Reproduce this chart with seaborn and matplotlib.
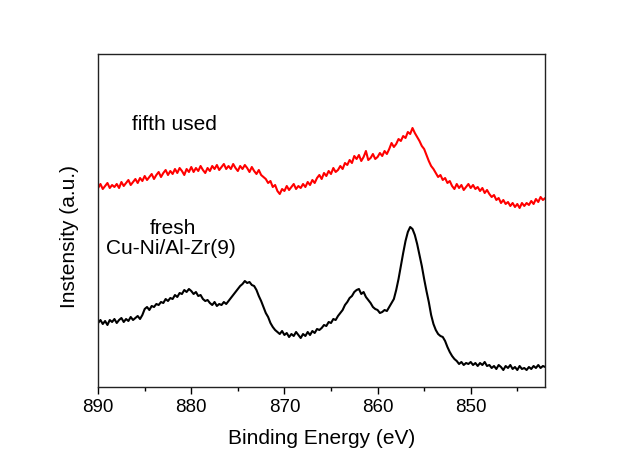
import numpy as np
import pandas as pd
import matplotlib
matplotlib.use("Agg")
import matplotlib.pyplot as plt
import seaborn as sns
from matplotlib.ticker import MultipleLocator

# ==========================================
# DATA (0.25 eV steps from 890 to 842 eV)
# ==========================================
energy = np.arange(890.0, 841.99, -0.25)

fifth_used = [
    199, 203, 198, 201, 204, 199, 202, 200,
    203, 199, 205, 201, 204, 207, 202, 205,
    208, 204, 209, 206, 211, 207, 210, 213,
    208, 212, 215, 210, 214, 217, 212, 216,
    213, 218, 214, 219, 216, 212, 218, 215,
    220, 215, 219, 216, 221, 217, 214, 219,
    216, 221, 218, 222, 217, 220, 223, 218,
    221, 218, 223, 219, 216, 221, 218, 222,
    219, 215, 220, 216, 213, 217, 212, 210,
    208, 204, 206, 200, 202, 196, 193, 198,
    196, 201, 197, 200, 203, 198, 201, 199,
    203, 200, 205, 202, 207, 204, 209, 212,
    208, 214, 211, 216, 213, 219, 215, 217,
    221, 218, 224, 222, 227, 224, 231, 228,
    232, 226, 230, 236, 227, 229, 233, 228,
    230, 234, 231, 236, 233, 238, 244, 240,
    243, 248, 246, 251, 249, 255, 253, 259,
    254, 250, 246, 241, 238, 232, 226, 221,
    218, 214, 210, 212, 207, 209, 204, 206,
    201, 198, 203, 199, 202, 197, 200, 203,
    199, 202, 198, 200, 196, 199, 194, 197,
    193, 190, 192, 187, 189, 184, 187, 183,
    185, 181, 184, 180, 183, 179, 184, 181,
    184, 182, 186, 183, 188, 185, 190, 187,
    189,
]

fresh = [
    64, 67, 63, 66, 62, 67, 65, 68,
    64, 67, 69, 65, 68, 66, 70, 67,
    69, 71, 68, 72, 78, 80, 77, 81,
    80, 83, 82, 85, 84, 88, 86, 89,
    88, 92, 90, 94, 93, 97, 95, 98,
    96, 93, 95, 91, 92, 88, 86, 87,
    84, 82, 85, 81, 83, 82, 85, 83,
    86, 89, 92, 95, 98, 101, 103, 106,
    104, 105, 102, 101, 97, 91, 86, 80,
    74, 70, 64, 60, 57, 55, 53, 56,
    52, 54, 50, 53, 51, 55, 52, 49,
    53, 51, 55, 52, 56, 54, 58, 57,
    59, 62, 61, 65, 64, 68, 67, 71,
    74, 77, 82, 85, 89, 91, 95, 97,
    98, 93, 95, 90, 87, 84, 80, 78,
    77, 74, 75, 77, 76, 80, 84, 88,
    97, 108, 121, 134, 146, 155, 160, 158,
    152, 143, 132, 121, 108, 96, 85, 72,
    63, 57, 53, 51, 50, 46, 40, 35,
    31, 28, 26, 23, 25, 22, 24, 23,
    25, 22, 24, 21, 24, 22, 25, 21,
    22, 19, 21, 18, 22, 20, 17, 21,
    19, 22, 18, 20, 17, 21, 18, 19,
    17, 20, 18, 21, 19, 22, 19, 21,
    20,
]

x_ticks = [890, 880, 870, 860, 850]

# ==========================================
# PLOT
# ==========================================
sns.set_style("ticks")
plt.rcParams['font.family'] = ['Liberation Sans', 'DejaVu Sans']
plt.rcParams['text.color'] = 'black'
plt.rcParams['axes.labelcolor'] = 'black'
plt.rcParams['xtick.color'] = 'black'

df = pd.DataFrame({'energy': energy, 'fifth used': fifth_used, 'fresh': fresh})

fig = plt.figure(figsize=(6.21, 4.5), dpi=100)
ax = fig.add_axes([0.158, 0.14, 0.72, 0.74])

sns.lineplot(data=df, x='energy', y='fifth used', color='#ff0000', lw=1.5, ax=ax)
sns.lineplot(data=df, x='energy', y='fresh', color='black', lw=1.5, ax=ax)

ax.set_xlim(890, 842)
ax.set_ylim(0, 333)
ax.set_xticks(x_ticks)
ax.xaxis.set_minor_locator(MultipleLocator(5))
ax.set_yticks([])
ax.tick_params(axis='x', which='major', direction='out', length=5, width=1,
               labelsize=13.5, top=False, pad=4)
ax.tick_params(axis='x', which='minor', direction='out', length=3, width=1, top=False)

for sp in ax.spines.values():
    sp.set_visible(True)
    sp.set_color('#222222')
    sp.set_linewidth(1.0)

ax.set_xlabel('Binding Energy (eV)', fontsize=15, labelpad=9)
ax.set_ylabel('Instensity (a.u.)', fontsize=15)
ax.yaxis.set_label_coords(-0.0425, 0.453)

ax.text(881.8, 262, 'fifth used', fontsize=15, ha='center', va='center')
ax.text(882.0, 159, 'fresh', fontsize=15, ha='center', va='center')
ax.text(882.2, 139, 'Cu-Ni/Al-Zr(9)', fontsize=15, ha='center', va='center')

fig.savefig('out.png', dpi=100, facecolor='white')
